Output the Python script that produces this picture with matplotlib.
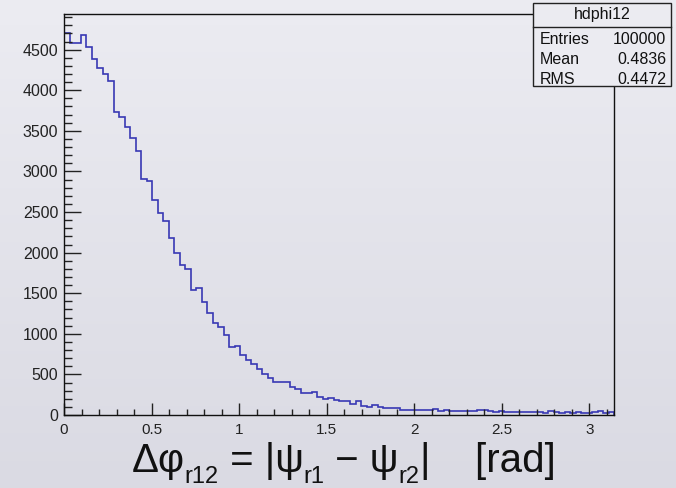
import numpy as np
import matplotlib
matplotlib.use("Agg")
import matplotlib.pyplot as plt
from matplotlib.patches import Rectangle
from matplotlib.lines import Line2D
from matplotlib.ticker import MultipleLocator

plt.rcParams['font.family'] = ['Liberation Sans', 'DejaVu Sans']

# Histogram hdphi12: 100 bins over [0, pi]
hist_name = "hdphi12"
x_min, x_max = 0.0, np.pi
counts = [
    4704, 4581, 4581, 4684, 4528, 4384, 4269, 4199, 4117, 3735,
    3666, 3543, 3411, 3255, 2906, 2878, 2651, 2486, 2393, 2176,
    1991, 1851, 1798, 1543, 1560, 1388, 1256, 1129, 1080, 985,
    841, 854, 739, 679, 628, 562, 505, 456, 410, 410,
    410, 341, 320, 271, 271, 287, 218, 197, 205, 185,
    168, 168, 135, 168, 115, 103, 123, 94, 86, 86,
    86, 66, 66, 66, 66, 66, 60, 75, 55, 66,
    55, 52, 50, 55, 48, 62, 60, 45, 42, 44,
    40, 43, 38, 41, 35, 32, 36, 30, 45, 33,
    30, 34, 28, 32, 30, 27, 40, 48, 30, 35,
]
stat_labels = ["Entries", "Mean", "RMS"]
stat_values = ["100000", "0.4836", "0.4472"]
x_ticks = [0, 0.5, 1, 1.5, 2, 2.5, 3]
x_tick_labels = ["0", "0.5", "1", "1.5", "2", "2.5", "3"]
y_ticks = [0, 500, 1000, 1500, 2000, 2500, 3000, 3500, 4000, 4500]
y_tick_labels = ["0", "500", "1000", "1500", "2000", "2500", "3000", "3500", "4000", "4500"]
# axis title pieces: (text, is_subscript)
x_title_parts = [("\u0394\u03c6", False), ("r12", True), (" = |\u03c8", False),
                 ("r1", True), (" \u2212 \u03c8", False), ("r2", True),
                 ("|    [rad]", False)]

W, H = 676, 488
fig = plt.figure(figsize=(W / 100, H / 100), dpi=100)

# soft vertical gradient behind everything
bg = fig.add_axes([0, 0, 1, 1], zorder=-10)
grad = np.linspace(0, 1, 256)[:, None]
top_c = np.array([0.925, 0.925, 0.948])
bot_c = np.array([0.855, 0.855, 0.890])
img = top_c[None, None, :] * (1 - grad[..., None]) + bot_c[None, None, :] * grad[..., None]
img = np.repeat(img, 4, axis=1)
bg.imshow(img, aspect='auto', extent=[0, 1, 0, 1], origin='upper')
bg.set_axis_off()


def fx(px):
    return px / W


def fy(py):
    return 1 - py / H


left, right, top, bottom = 64, 614, 14, 415
ax = fig.add_axes([fx(left), fy(bottom), fx(right - left), (bottom - top) / H])
ax.set_facecolor('none')

edges = np.linspace(x_min, x_max, len(counts) + 1)
ax.stairs(counts, edges, baseline=0, color='#3838b4', lw=1.2)

ax.set_xlim(x_min, x_max)
ax.set_ylim(0, max(counts) * 1.05)

ax.set_xticks(x_ticks)
ax.set_xticklabels(x_tick_labels)
ax.set_yticks(y_ticks)
ax.set_yticklabels(y_tick_labels)
ax.xaxis.set_minor_locator(MultipleLocator(0.1))
ax.yaxis.set_minor_locator(MultipleLocator(100))

tick_col = '#222222'
ax.tick_params(axis='x', which='major', direction='in', length=8.6, width=1.0,
               color=tick_col, labelsize=11, labelcolor=tick_col, pad=6, top=False)
ax.tick_params(axis='x', which='minor', direction='in', length=4.3, width=1.0,
               color=tick_col, top=False)
ax.tick_params(axis='y', which='major', direction='in', length=11.9, width=1.0,
               color=tick_col, labelsize=11.5, labelcolor=tick_col, pad=4, right=False)
ax.tick_params(axis='y', which='minor', direction='in', length=5.9, width=1.0,
               color=tick_col, right=False)
for s in ax.spines.values():
    s.set_color('#111111')
    s.set_linewidth(1.0)

# axis title, laid out piece by piece so subscripts sit low like in ROOT
renderer = fig.canvas.get_renderer()
main_size, sub_size = 29, 17
base_px = 472          # baseline, pixels from top
sub_drop_px = 11       # subscript baseline offset below main baseline
pieces = []
x_cursor = 0.0
for txt, is_sub in x_title_parts:
    size = sub_size if is_sub else main_size
    t = fig.text(0, 0, txt, fontsize=size, ha='left', va='baseline',
                 color='#111111')
    w = t.get_window_extent(renderer).width
    pieces.append((t, x_cursor, is_sub))
    x_cursor += w
total_w = x_cursor
start_px = 343.5 - total_w / 2
for t, off, is_sub in pieces:
    ypx = base_px + (sub_drop_px if is_sub else 0)
    t.set_position((fx(start_px + off), fy(ypx)))

# statistics box
bx0, bx1, by0, by1, bsep = 533, 671, 3, 86, 27
fig.add_artist(Rectangle((fx(bx0), fy(by1)), fx(bx1 - bx0), (by1 - by0) / H,
                         transform=fig.transFigure, facecolor='#ebebf1',
                         edgecolor='#222222', lw=1.0, zorder=5))
fig.add_artist(Line2D([fx(bx0), fx(bx1)], [fy(bsep), fy(bsep)],
                      transform=fig.transFigure, color='#222222', lw=1.0, zorder=6))
fig.text(fx((bx0 + bx1) / 2), fy(15), hist_name, ha='center', va='center',
         fontsize=11.5, color='#111111', zorder=7)
for i, (lab, val) in enumerate(zip(stat_labels, stat_values)):
    yy = fy(39 + 20 * i)
    fig.text(fx(540), yy, lab, ha='left', va='center', fontsize=11.5,
             color='#111111', zorder=7)
    fig.text(fx(666), yy, val, ha='right', va='center', fontsize=11.5,
             color='#111111', zorder=7)

fig.savefig("out.png", dpi=100)
